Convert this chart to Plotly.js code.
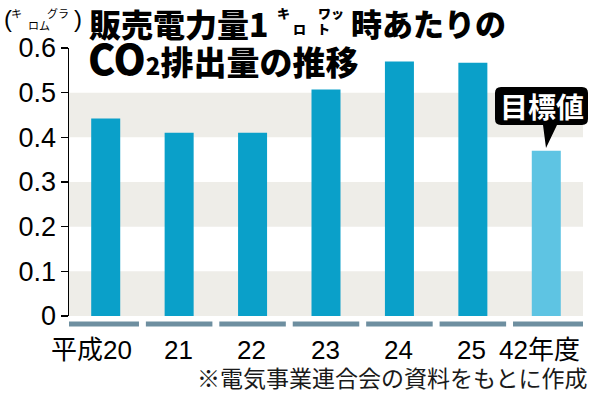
<!DOCTYPE html>
<html>
<head>
<meta charset="utf-8">
<script src="https://cdn.plot.ly/plotly-3.0.1.min.js"></script>
<style>
  html, body { margin: 0; padding: 0; background: #ffffff; }
  #chart { width: 600px; height: 393px; }
</style>
</head>
<body>
<div id="chart"></div>
<script>
// ---- data ----
const categories = ['平成20', '21', '22', '23', '24', '25', '42年度'];
const co2Values = [0.442, 0.410, 0.410, 0.507, 0.570, 0.567, 0.370];
const targetCategory = '42年度';
const yTickValues = [0, 0.1, 0.2, 0.3, 0.4, 0.5, 0.6];
const yTickLabels = ['0', '0.1', '0.2', '0.3', '0.4', '0.5', '0.6'];
const bandRanges = [[0, 0.1], [0.2, 0.3], [0.4, 0.5]];

// ---- style ----
const W = 600, H = 393;
const M = { l: 69, r: 17, t: 48, b: 77 };
const PW = W - M.l - M.r, PH = H - M.t - M.b;
const px = x => (x - M.l) / PW;          // pixel -> paper x
const py = y => (H - M.b - y) / PH;      // pixel -> paper y
const BAR = '#0aa0c9', BAR_TARGET = '#5ec4e3', BAND = '#eeede8', STRIP = '#6e8fa0';
const CJK = 'Noto Sans CJK JP';
const NUM = 'Liberation Sans, Arial, sans-serif';

const barColors = categories.map(c => c === targetCategory ? BAR_TARGET : BAR);

const trace = {
  type: 'bar',
  x: categories,
  y: co2Values,
  width: 0.395,
  marker: { color: barColors, line: { width: 0 } },
  hoverinfo: 'skip'
};

const shapes = [];
bandRanges.forEach(r => shapes.push({
  type: 'rect', xref: 'paper', yref: 'y', x0: 0, x1: 1, y0: r[0], y1: r[1],
  fillcolor: BAND, line: { width: 0 }, layer: 'below'
}));
// category strips under the axis
categories.forEach((c, i) => {
  const g = 0.047;
  shapes.push({
    type: 'rect', xref: 'x', yref: 'paper',
    x0: i === 0 ? i - 0.5 : i - 0.5 + g,
    x1: i === categories.length - 1 ? i + 0.5 : i + 0.5 - g,
    y0: py(326.5), y1: py(321.5),
    fillcolor: STRIP, line: { width: 0 }
  });
});
// callout bubble "目標値"
(function () {
  const x0 = 495, x1 = 588, y0 = 87, y1 = 125, r = 6;
  const P = (x, y) => px(x).toFixed(5) + ',' + py(y).toFixed(5);
  const path = 'M' + P(x0 + r, y0) + ' L' + P(x1 - r, y0) + ' Q' + P(x1, y0) + ' ' + P(x1, y0 + r) +
    ' L' + P(x1, y1 - r) + ' Q' + P(x1, y1) + ' ' + P(x1 - r, y1) +
    ' L' + P(557, y1) + ' L' + P(546, 148) + ' L' + P(543, y1) +
    ' L' + P(x0 + r, y1) + ' Q' + P(x0, y1) + ' ' + P(x0, y1 - r) +
    ' L' + P(x0, y0 + r) + ' Q' + P(x0, y0) + ' ' + P(x0 + r, y0) + ' Z';
  shapes.push({ type: 'path', xref: 'paper', yref: 'paper', path: path,
    fillcolor: '#000000', line: { width: 0 } });
})();

const annotations = [];
function txt(text, x, y, size, opts) {
  opts = opts || {};
  annotations.push({
    text: text, xref: 'paper', yref: 'paper', x: px(x), y: py(y),
    xanchor: opts.xanchor || 'left', yanchor: 'middle', showarrow: false,
    font: { family: opts.family || CJK, size: size, color: opts.color || '#000000', weight: opts.weight || 900 }
  });
}
// title line 1
txt('販売電力量1', 87, 22.5, 32);
txt('キ', 283.5, 12.5, 13, { xanchor: 'center' });
txt('ロ', 299, 28.5, 13, { xanchor: 'center' });
txt('ワッ', 330.5, 12.5, 13, { xanchor: 'center' });
txt('ト', 323, 28.5, 13, { xanchor: 'center' });
txt('時あたりの', 349, 22.5, 31);
// title line 2
txt('<span style="font-size:41px">CO</span><span style="font-size:24px">2</span>排出量の推移', 86, 57, 33);
// y unit
txt('(', 2, 18, 24, { family: NUM, weight: 400 });
txt('キ', 16.5, 13, 11, { xanchor: 'center', weight: 400 });
txt('グラ', 57.5, 13, 11, { xanchor: 'center', weight: 400 });
txt('ロム', 38.5, 25, 11, { xanchor: 'center', weight: 400 });
txt(')', 72, 18, 24, { family: NUM, weight: 400 });
// callout text
txt('目標値', 541.5, 106, 28, { xanchor: 'center', color: '#ffffff', weight: 700 });
// x category labels
const labelShift = { '平成20': -14, '42年度': -7 };
categories.forEach((c, i) => {
  annotations.push({
    text: c, xref: 'x', yref: 'paper', x: i, y: py(350), xanchor: 'center', yanchor: 'middle',
    xshift: labelShift[c] !== undefined ? labelShift[c] : -1, showarrow: false,
    font: { family: NUM + ', ' + CJK, size: 26, color: '#000000' }
  });
});
// source note
txt('※電気事業連合会の資料をもとに作成', 590, 377, 23, { xanchor: 'right', weight: 400, color: '#1a1a1a' });

const layout = {
  width: W, height: H, autosize: false,
  margin: M,
  paper_bgcolor: '#ffffff', plot_bgcolor: '#ffffff',
  showlegend: false,
  bargap: 0.6,
  xaxis: {
    type: 'category', categoryorder: 'array', categoryarray: categories,
    range: [-0.5, categories.length - 0.5],
    showticklabels: false, ticks: '', showline: false, showgrid: false, zeroline: false, fixedrange: true
  },
  yaxis: {
    range: [0, 0.6], tickvals: yTickValues, ticktext: yTickLabels,
    showline: true, linecolor: '#000000', linewidth: 1.5,
    ticks: 'outside', ticklen: 7, tickwidth: 1.5, tickcolor: '#000000',
    showgrid: false, zeroline: false, fixedrange: true,
    tickfont: { family: NUM, size: 27, color: '#000000' },
    ticklabelstandoff: -1
  },
  shapes: shapes,
  annotations: annotations
};

Plotly.newPlot('chart', [trace], layout, { displayModeBar: false, staticPlot: true });
</script>
</body>
</html>
